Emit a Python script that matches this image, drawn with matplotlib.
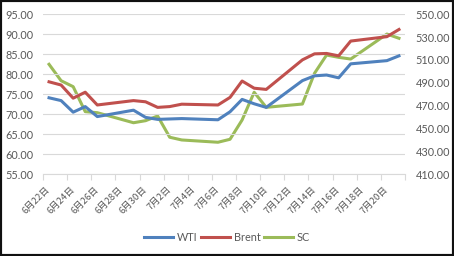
import matplotlib
matplotlib.use("Agg")
import matplotlib.pyplot as plt
from matplotlib.patches import Rectangle
import pandas as pd

# trading days (weekends skipped)
dates = ["2020-06-22", "2020-06-23", "2020-06-24", "2020-06-25", "2020-06-26",
         "2020-06-29", "2020-06-30", "2020-07-01", "2020-07-02", "2020-07-03",
         "2020-07-06", "2020-07-07", "2020-07-08", "2020-07-09", "2020-07-10",
         "2020-07-13", "2020-07-14", "2020-07-15", "2020-07-16", "2020-07-17",
         "2020-07-20", "2020-07-21"]

wti = [74.1, 73.4, 70.5, 71.9, 69.4, 71.0, 69.2, 68.7, 68.8, 68.9, 68.6,
       70.6, 73.7, 72.6, 71.7, 78.4, 79.6, 79.8, 79.1, 82.6, 83.4, 84.6]
brent = [78.1, 77.3, 74.0, 75.5, 72.3, 73.4, 73.1, 71.7, 71.9, 72.5, 72.3,
         74.2, 78.3, 76.5, 76.2, 83.6, 85.1, 85.2, 84.6, 88.3, 89.4, 91.2]
sc = [506.2, 491.8, 486.6, 464.7, 463.8, 455.0, 456.8, 460.9, 442.3, 439.9, 437.9,
      440.5, 457.4, 481.7, 468.5, 471.4, 498.3, 514.3, 512.3, 510.8, 532.7, 529.0]

left_ticks = [55, 60, 65, 70, 75, 80, 85, 90, 95]
right_ticks = [410, 430, 450, 470, 490, 510, 530, 550]

C_WTI = "#4F81BD"
C_BRENT = "#C0504D"
C_SC = "#9BBB59"
TXT = "#595959"
GRID = "#D9D9D9"

NUM_FONT = ["Lato", "DejaVu Sans"]
CJK_FONT = ["Noto Sans CJK SC", "DejaVu Sans"]

d = pd.to_datetime(dates) + pd.Timedelta(hours=12)

fig = plt.figure(figsize=(4.54, 2.56), dpi=100)
ax = fig.add_axes([43 / 454, 1 - 174.1 / 256, 362 / 454, (174.1 - 14.3) / 256])
ax2 = ax.twinx()

ax.plot(d, wti, color=C_WTI, lw=2.2, label="WTI", solid_joinstyle="round")
ax.plot(d, brent, color=C_BRENT, lw=2.2, label="Brent", solid_joinstyle="round")
ax2.plot(d, sc, color=C_SC, lw=2.2, label="SC", solid_joinstyle="round")

start = pd.Timestamp("2020-06-22")
end = pd.Timestamp("2020-07-22")
ax.set_xlim(start, end)
ax.set_ylim(55, 95)
ax2.set_ylim(410, 550)

ax.set_yticks(left_ticks)
ax.set_yticklabels([f"{v:.2f}" for v in left_ticks])
ax2.set_yticks(right_ticks)
ax2.set_yticklabels([f"{v:.2f}" for v in right_ticks])

# tick marks at slot boundaries, labels at day centres
major = pd.date_range(start, end, freq="2D")
minor = pd.date_range(start, pd.Timestamp("2020-07-20"), freq="2D") + pd.Timedelta(hours=12)
ax.set_xticks(major)
ax.set_xticklabels([])
ax.set_xticks(minor, minor=True)
ax.set_xticklabels([f"{t.month}月{t.day}日" for t in minor], minor=True,
                   rotation=45, ha="right", va="center", rotation_mode="anchor",
                   family=CJK_FONT, fontsize=6.8, color=TXT)
ax.tick_params(axis="x", which="major", length=4, color=GRID, width=0.8, direction="out")
ax.tick_params(axis="x", which="minor", length=0, pad=10)

for a in (ax, ax2):
    for s in a.spines.values():
        s.set_visible(False)
ax.spines["bottom"].set_visible(True)
ax.spines["bottom"].set_color(GRID)
ax.spines["bottom"].set_linewidth(0.8)

ax.tick_params(axis="y", length=0, pad=7, labelcolor=TXT)
ax2.tick_params(axis="y", length=0, pad=7.5, labelcolor=TXT)
for lab in ax.get_yticklabels() + ax2.get_yticklabels():
    lab.set_family(NUM_FONT)
    lab.set_fontsize(7.8)

ax.grid(axis="y", color=GRID, lw=0.8)
ax.set_axisbelow(True)
ax.set_zorder(ax2.get_zorder() + 1)
ax.patch.set_visible(False)

h1, l1 = ax.get_legend_handles_labels()
h2, l2 = ax2.get_legend_handles_labels()
leg = fig.legend(h1 + h2, l1 + l2, loc="center", bbox_to_anchor=(227 / 454, 1 - 237.5 / 256),
                 ncol=3, frameon=False, handlelength=2.7, handletextpad=0.35,
                 columnspacing=0.3, prop={"family": NUM_FONT, "size": 7.8})
for t in leg.get_texts():
    t.set_color(TXT)

fig.add_artist(Rectangle((0, 0), 1, 1, transform=fig.transFigure, fill=False,
                         edgecolor="#111111", lw=3.0))

fig.savefig("out.png", dpi=100)
